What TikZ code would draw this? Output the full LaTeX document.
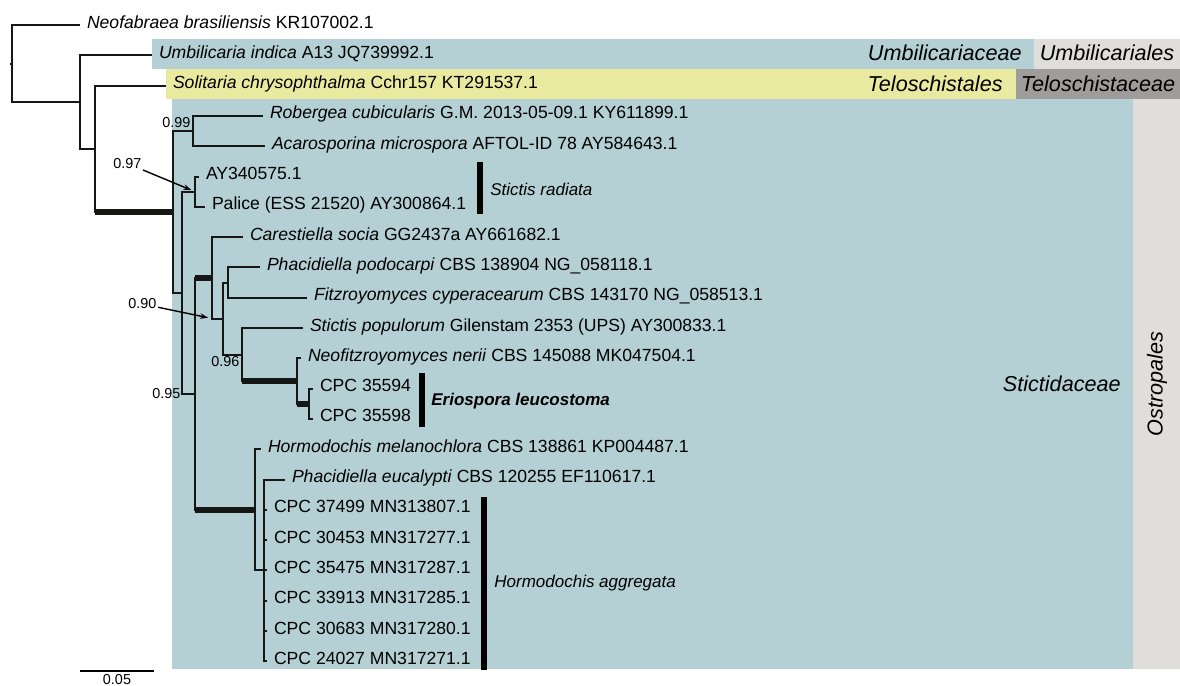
\documentclass[tikz,border=0pt]{standalone}
\usepackage{fontspec}
\setmainfont{Liberation Sans}
\usetikzlibrary{arrows.meta, positioning}

\definecolor{famblue}{RGB}{180,208,213}
\definecolor{ordyellow}{RGB}{234,233,160}
\definecolor{ordgray}{RGB}{224,222,221}
\definecolor{famgray}{RGB}{161,156,156}
\definecolor{treeline}{RGB}{22,22,20}

\begin{document}
\begin{tikzpicture}[
		x=0.5pt, y=-0.5pt,
		branch/.style={draw=treeline, line width=1pt},
		thickbranch/.style={draw=treeline, line width=2.8pt},
		leaf/.style={anchor=base west, inner sep=0pt, xshift=3.3pt, yshift=-1.5pt, font=\fontsize{8.8}{10}\selectfont},
		cladebar/.style={line width=3pt},
		cladename/.style={anchor=base west, inner sep=0pt, font=\fontsize{8.5}{10}\selectfont\itshape},
		support/.style={inner sep=0.6pt, font=\fontsize{7.2}{8}\selectfont},
		supparrow/.style={-{Stealth[length=4pt, width=2.8pt]}, line width=0.7pt, shorten >=2pt},
		taxon/.style={inner sep=0pt, font=\fontsize{10.8}{12}\selectfont\itshape}
		]
		\useasboundingbox (0,0) rectangle (1180,686);
		
		% coloured bands
		\fill[famblue] (152,39) rectangle (1034,69);
		\fill[ordgray] (1034,39) rectangle (1180,69);
		\fill[ordyellow] (166,69) rectangle (1016,99);
		\fill[famgray] (1016,69) rectangle (1180,99);
		\fill[famblue] (172,99) rectangle (1133,669);
		\fill[ordgray] (1133,99) rectangle (1180,669);
		
		% internal nodes
		\coordinate (root) at (12,63.5);
		\coordinate (A) at (80,102);
		\coordinate (B) at (95,148.7);
		\coordinate (C) at (173,211.9);
		\coordinate (D) at (193,131.05);
		\coordinate (E) at (182,292.7);
		\coordinate (F) at (195,191.65);
		\coordinate (G) at (195,393.8);
		\coordinate (H) at (212,277.8);
		\coordinate (I) at (223,318.5);
		\coordinate (J) at (228,282.55);
		\coordinate (L) at (242,354.5);
		\coordinate (M) at (297,381);
		\coordinate (N) at (309,403.75);
		\coordinate (K) at (255,509.8);
		\coordinate (P) at (264,570.4);
		
		% tips
		\coordinate (t-neofab) at (80,25);
		\coordinate (t-umbil) at (152,55.3);
		\coordinate (t-solit) at (166,85.6);
		\coordinate (t-roberg) at (263,115.9);
		\coordinate (t-acaro) at (265,146.2);
		\coordinate (t-ay34) at (199,176.5);
		\coordinate (t-palice) at (205,206.8);
		\coordinate (t-carest) at (243,237.1);
		\coordinate (t-phacpod) at (260,267.4);
		\coordinate (t-fitzroy) at (307,297.7);
		\coordinate (t-stictpop) at (303,328);
		\coordinate (t-neofitz) at (301,358.3);
		\coordinate (t-cpc594) at (313,388.6);
		\coordinate (t-cpc598) at (313,418.9);
		\coordinate (t-hormmel) at (261,449.2);
		\coordinate (t-phaceuc) at (285,479.5);
		
		% leaf labels
		\node[leaf] (neofab) at (t-neofab) {\textit{Neofabraea brasiliensis} KR107002.1};
		\node[leaf] (umbil) at (t-umbil) {\textit{Umbilicaria indica} A13 JQ739992.1};
		\node[leaf] (solit) at (t-solit) {\textit{Solitaria chrysophthalma} Cchr157 KT291537.1};
		\node[leaf] (roberg) at (t-roberg) {\textit{Robergea cubicularis} G.M. 2013-05-09.1 KY611899.1};
		\node[leaf] (acaro) at (t-acaro) {\textit{Acarosporina microspora} AFTOL-ID 78 AY584643.1};
		\node[leaf] (ay34) at (t-ay34) {AY340575.1};
		\node[leaf] (palice) at (t-palice) {Palice (ESS 21520) AY300864.1};
		\node[leaf] (carest) at (t-carest) {\textit{Carestiella socia} GG2437a AY661682.1};
		\node[leaf] (phacpod) at (t-phacpod) {\textit{Phacidiella podocarpi} CBS 138904 NG\_058118.1};
		\node[leaf] (fitzroy) at (t-fitzroy) {\textit{Fitzroyomyces cyperacearum} CBS 143170 NG\_058513.1};
		\node[leaf] (stictpop) at (t-stictpop) {\textit{Stictis populorum} Gilenstam 2353 (UPS) AY300833.1};
		\node[leaf] (neofitz) at (t-neofitz) {\textit{Neofitzroyomyces nerii} CBS 145088 MK047504.1};
		\node[leaf] (cpc594) at (t-cpc594) {CPC 35594};
		\node[leaf] (cpc598) at (t-cpc598) {CPC 35598};
		\node[leaf] (hormmel) at (t-hormmel) {\textit{Hormodochis melanochlora} CBS 138861 KP004487.1};
		\node[leaf] (phaceuc) at (t-phaceuc) {\textit{Phacidiella eucalypti} CBS 120255 EF110617.1};
		\foreach \strain/\acc [count=\n from 0] in {37499/MN313807.1, 30453/MN317277.1, 35475/MN317287.1, 33913/MN317285.1, 30683/MN317280.1, 24027/MN317271.1}{
			\coordinate (t-agg\n) at (267,{509.8+30.3*\n});
			\node[leaf] (agg\n) at (t-agg\n) {CPC \strain\ \acc};
			\draw[branch] (P) |- (t-agg\n);
		}
		
		% branches
		\draw[branch] (root) -- ++(-2,0);
		\draw[branch] (root) |- (t-neofab);
		\draw[branch] (root) |- (A);
		\draw[branch] (A) |- (t-umbil);
		\draw[branch] (A) |- (B);
		\draw[branch] (B) |- (t-solit);
		\draw[branch] (B) |- (C);
		\draw[thickbranch] (B |- C) -- (C);
		\draw[branch] (C) |- (D);
		\draw[branch] (D) |- (t-roberg);
		\draw[branch] (D) |- (t-acaro);
		\draw[branch] (C) |- (E);
		\draw[branch] (E) |- (F);
		\draw[branch] (F) |- (t-ay34);
		\draw[branch] (F) |- (t-palice);
		\draw[branch] (E) |- (G);
		\draw[branch] (G) |- (H);
		\draw[thickbranch] (G |- H) -- (H);
		\draw[branch] (H) |- (t-carest);
		\draw[branch] (H) |- (I);
		\draw[branch] (I) |- (J);
		\draw[branch] (J) |- (t-phacpod);
		\draw[branch] (J) |- (t-fitzroy);
		\draw[branch] (I) |- (L);
		\draw[branch] (L) |- (t-stictpop);
		\draw[branch] (L) |- (M);
		\draw[thickbranch] (L |- M) -- (M);
		\draw[branch] (M) |- (t-neofitz);
		\draw[branch] (M) |- (N);
		\draw[thickbranch] (M |- N) -- (N);
		\draw[branch] (N) |- (t-cpc594);
		\draw[branch] (N) |- (t-cpc598);
		\draw[branch] (G) |- (K);
		\draw[thickbranch] (G |- K) -- (K);
		\draw[branch] (K) |- (t-hormmel);
		\draw[branch] (K) |- (P);
		\draw[branch] (P) |- (t-phaceuc);
		
		% support values
		\node[support, anchor=south east] (s99) at (192,129) {0.99};
		\node[support, anchor=east] (s97) at (143,163.5) {0.97};
		\node[support, anchor=east] (s90) at (158,304) {0.90};
		\node[support, anchor=north east] (s96) at (241,355) {0.96};
		\node[support, anchor=east] (s95) at (182,393.8) {0.95};
		\draw[supparrow] (s97) -- (F);
		\draw[supparrow] (s90) -- (H |- I);
		
		% clade bars
		\draw[cladebar] (480,162) -- (480,214);
		\node[cladename] (radiata) at (490,195) {Stictis radiata};
		\draw[cladebar] (422,373) -- (422,427);
		\node[cladename, font=\fontsize{8.5}{10}\selectfont\bfseries\itshape] (eriospora) at (431,405) {Eriospora leucostoma};
		\draw[cladebar] (484,497) -- (484,670);
		\node[cladename] (aggregata) at (494,587) {Hormodochis aggregata};
		
		% family and order names
		\node[taxon, anchor=base east] (umbilfam) at (1022,60) {Umbilicariaceae};
		\node[taxon, anchor=base] (umbilord) at (1107,60) {Umbilicariales};
		\node[taxon, anchor=base east] (telosord) at (1003,91) {Teloschistales};
		\node[taxon, anchor=base] (telosfam) at (1098,91) {Teloschistaceae};
		\node[taxon, anchor=base east] (stictfam) at (1121,391) {Stictidaceae};
		\node[taxon, rotate=90] (ostrord) at (1157,384) {Ostropales};
		
		% scale bar
		\coordinate (sbl) at (80,671);
		\coordinate (sbr) at (154,671);
		\draw[line width=1.4pt] (sbl) -- (sbr);
		\node[support, inner sep=0pt, anchor=north] (scale) at (117,674) {0.05};
\end{tikzpicture}
\end{document}
